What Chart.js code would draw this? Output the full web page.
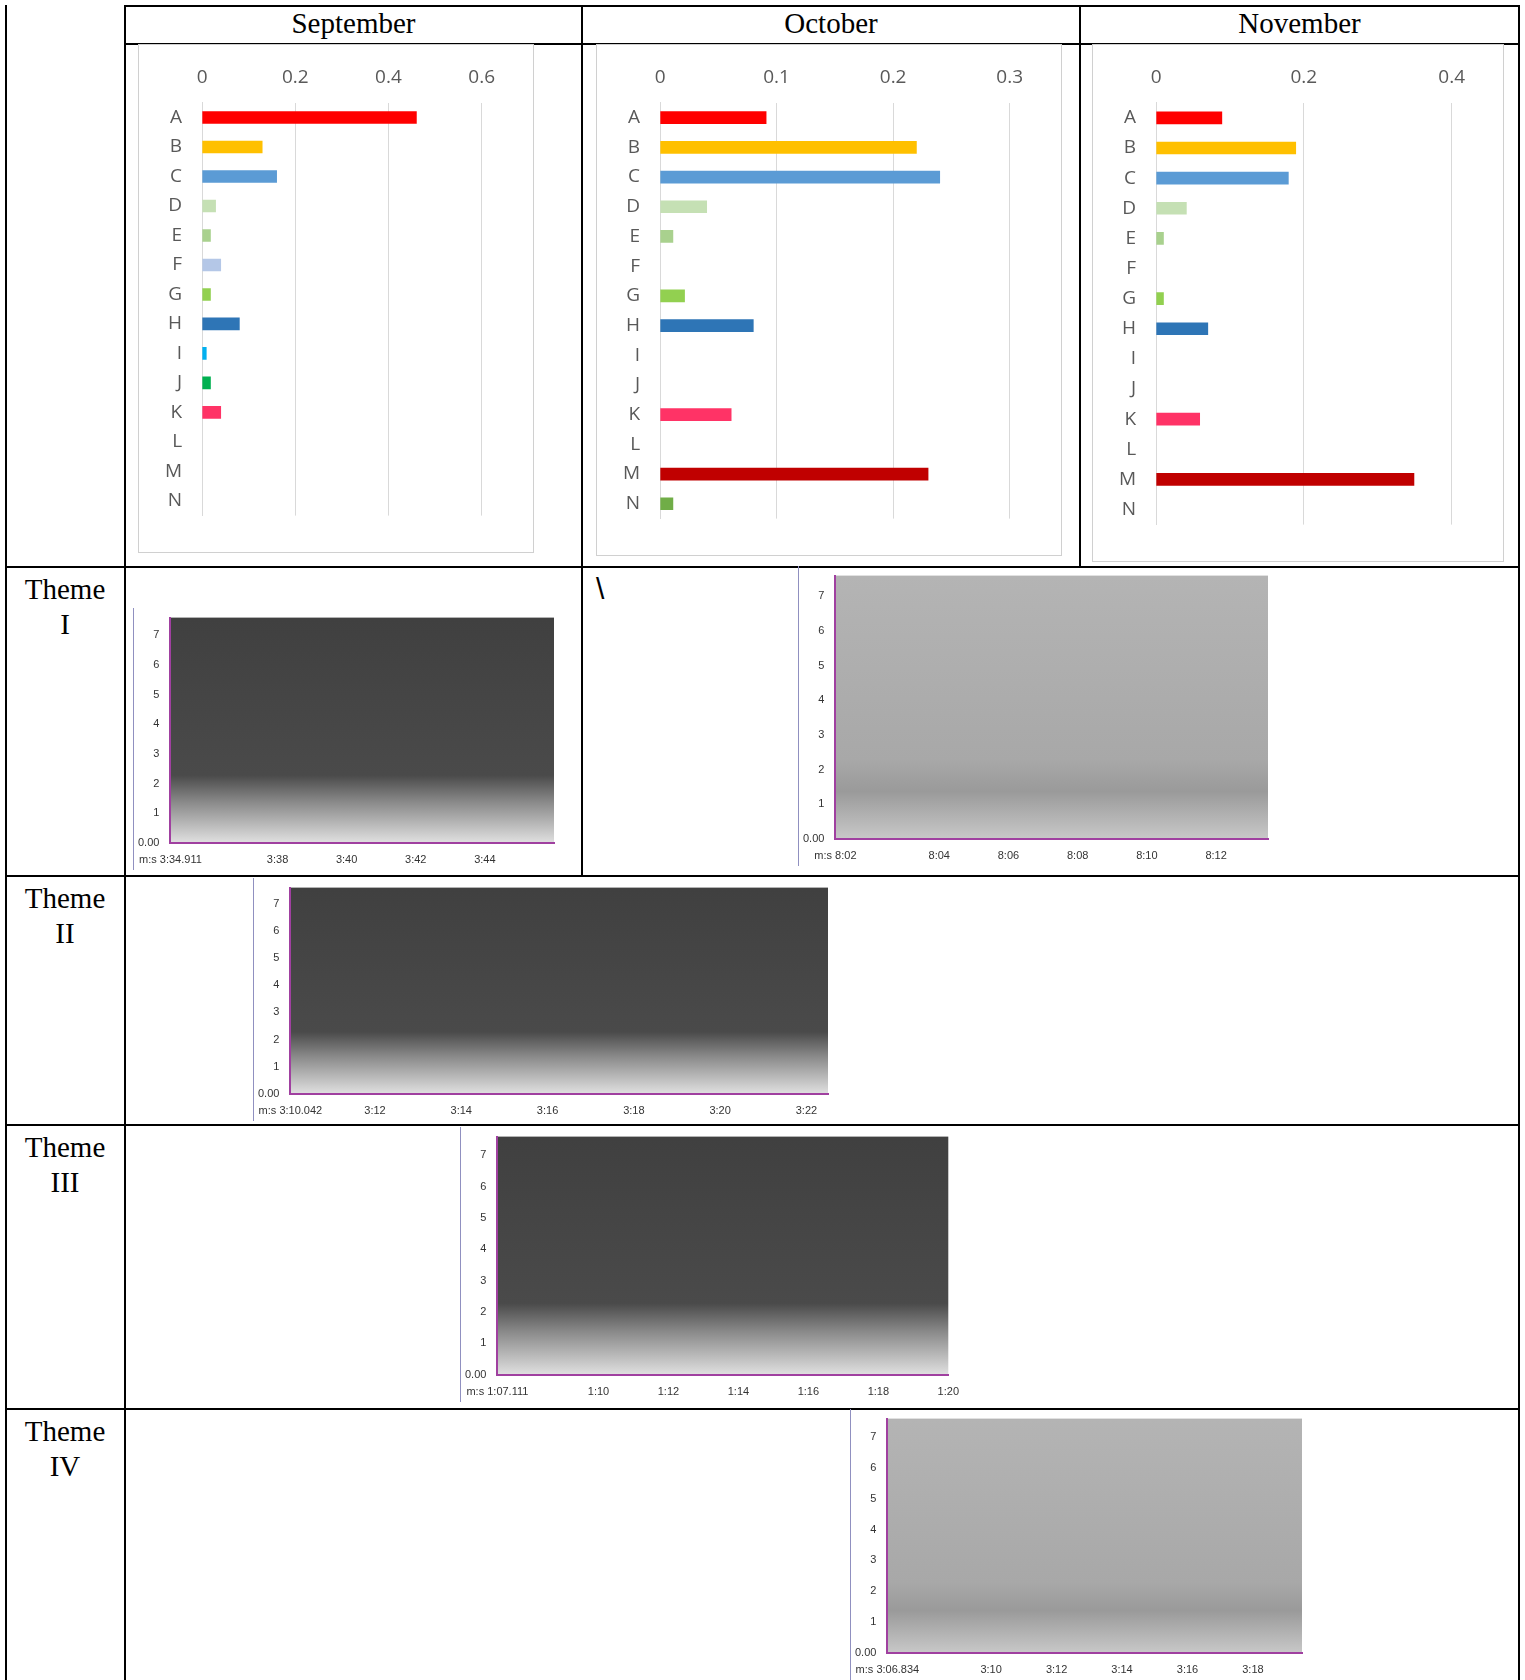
<!DOCTYPE html>
<html><head><meta charset="utf-8">
<script src="https://cdn.jsdelivr.net/npm/chart.js@4/dist/chart.umd.min.js"></script>
<style>
body{margin:0;background:#fff;}
#page{position:relative;width:1525px;height:1680px;overflow:hidden;font-family:"Liberation Serif",serif;}
.ln{position:absolute;background:#000;}
.box{position:absolute;border:1px solid #d0d0d0;box-sizing:border-box;}
.hd{position:absolute;font-size:29px;text-align:center;}
.th{position:absolute;left:5px;width:120px;font-size:29px;text-align:center;line-height:35px;}
.cv{position:absolute;}
</style></head><body>
<div id="page"></div>
<script>
// data
const categories = ['A','B','C','D','E','F','G','H','I','J','K','L','M','N'];
const barColors = ['#FF0000','#FFC000','#5B9BD5','#C5E0B4','#A9D18E','#B4C7E7','#92D050','#2E75B6','#00B0F0','#00B050','#FF3366','#7F7F7F','#C00000','#70AD47'];
const september = [0.46,0.129,0.16,0.029,0.018,0.04,0.018,0.08,0.009,0.018,0.04,null,null,null];
const october   = [0.091,0.22,0.24,0.04,0.011,null,0.021,0.08,null,null,0.061,null,0.23,0.011];
const november  = [0.089,0.189,0.179,0.041,0.01,null,0.01,0.07,null,null,0.059,null,0.349,null];
const months = ['September','October','November'];
const kHzTicks = [1,2,3,4,5,6,7];

const page = document.getElementById('page');
function el(cls, st, html){const d=document.createElement('div');d.className=cls;Object.assign(d.style,st);if(html)d.innerHTML=html;page.appendChild(d);return d;}

// table grid
const cols=[5,125,582,1080,1519], rows=[5,44,566,875,1124,1408,1680];
el('ln',{left:'125px',top:'5px',width:'1394px',height:'2px'});
el('ln',{left:'125px',top:'43px',width:'1394px',height:'2px'});
[566,875,1124,1408].forEach(y=>el('ln',{left:'5px',top:y+'px',width:'1514px',height:'2px'}));
el('ln',{left:'5px',top:'5px',width:'2px',height:'1675px'});
el('ln',{left:'124px',top:'5px',width:'2px',height:'1675px'});
el('ln',{left:'581px',top:'5px',width:'2px',height:'870px'});
el('ln',{left:'1079px',top:'5px',width:'2px',height:'561px'});
el('ln',{left:'1518px',top:'5px',width:'2px',height:'1675px'});
months.forEach((m,i)=>el('hd',{left:cols[i+1]+'px',width:(cols[i+2]-cols[i+1])+'px',top:'7px'},m));
['I','II','III','IV'].forEach((r,i)=>el('th',{top:(rows[i+2]+6)+'px'},'Theme<br>'+r));
el('hd',{left:'596px',top:'572px',fontSize:'30px',fontFamily:'Liberation Sans'},'\\');

function barChart(box, vals, max, step){
  el('box',{left:box[0]+'px',top:box[1]+'px',width:box[2]+'px',height:box[3]+'px'});
  const c=document.createElement('canvas');
  const w=box[2]-40,h=box[3]-22;
  const d=el('cv',{left:(box[0]+15)+'px',top:(box[1]+8)+'px',width:w+'px',height:h+'px'});
  d.appendChild(c);
  new Chart(c,{type:'bar',
    data:{labels:categories,datasets:[{data:vals,backgroundColor:barColors,barThickness:12}]},
    options:{indexAxis:'y',responsive:true,maintainAspectRatio:false,animation:false,
      plugins:{legend:{display:false},tooltip:{enabled:false}},
      scales:{
        x:{position:'top',min:0,max:max,ticks:{stepSize:step,color:'#595959',font:{family:'Open Sans',size:19},padding:14},
           grid:{color:'#d9d9d9',drawTicks:false},border:{display:false}},
        y:{ticks:{color:'#595959',font:{family:'Open Sans',size:19},padding:12},grid:{display:false},border:{color:'#d9d9d9'}}
      }}});
}
barChart([138,44,396,509],september,0.6,0.2);
barChart([596,44,466,512],october,0.3,0.1);
barChart([1092,44,412,518],november,0.4,0.2);

// spectrogram frames: plot area + axes, background shaded via plugin
const shade={id:'shade',beforeDraw(ch,a,o){const {ctx,chartArea:ca}=ch;const g=ctx.createLinearGradient(0,ca.top,0,ca.bottom);
  g.addColorStop(0,o.top);g.addColorStop(0.7,o.mid);g.addColorStop(0.82,o.low);g.addColorStop(1,o.bottom);
  ctx.save();ctx.fillStyle=g;ctx.fillRect(ca.left,ca.top,ca.right-ca.left,ca.bottom-ca.top);ctx.restore();}};
function spectro(x,y,w,h,t0,t1,timeTicks,startLbl,dark){
  const c=document.createElement('canvas');
  const d=el('cv',{left:x+'px',top:y+'px',width:w+'px',height:h+'px'});d.appendChild(c);
  el('ln',{left:(x-2)+'px',top:y+'px',width:'1px',height:h+'px',background:'#9090c0'});
  const pal=dark?{top:'#404040',mid:'#4a4a4a',low:'#8a8a8a',bottom:'#e0e0e0'}:{top:'#b4b4b4',mid:'#a8a8a8',low:'#9a9a9a',bottom:'#c8c8c8'};
  new Chart(c,{type:'scatter',data:{datasets:[{data:[]}]},plugins:[shade],
    options:{responsive:true,maintainAspectRatio:false,animation:false,layout:{padding:{right:2}},
      plugins:{legend:{display:false},tooltip:{enabled:false},shade:pal},
      scales:{
        x:{min:t0,max:t1,afterBuildTicks:s=>{s.ticks=[t0].concat(timeTicks).map(v=>({value:v}));},
          ticks:{color:'#333',font:{family:'Liberation Sans',size:11},callback:(v,i)=>i===0?startLbl:Math.floor(Math.round(v)/60)+':'+String(Math.round(v)%60).padStart(2,'0'),autoSkip:false,maxRotation:0},
          grid:{display:false,drawTicks:true},border:{color:'#a040a0',width:2}},
        y:{min:0,max:7.6,afterBuildTicks:s=>{s.ticks=[0].concat(kHzTicks).map(v=>({value:v}));},
          ticks:{color:'#333',font:{family:'Liberation Sans',size:11},callback:v=>v===0?'0.00':v},
          grid:{display:false},border:{color:'#a040a0',width:2}}
      }}});
}
spectro(135,608,421,262,214.9,226,[218,220,222,224],'m:s 3:34.911',true);
spectro(800,566,470,300,481,493.5,[484,486,488,490,492],'m:s 8:02',false);
spectro(255,878,575,243,190.04,202.5,[192,194,196,198,200,202],'m:s 3:10.042',true);
spectro(462,1127,500,275,67.11,80,[70,72,74,76,78,80],'m:s 1:07.111',true);
spectro(852,1409,452,271,186.83,199.5,[190,192,194,196,198],'m:s 3:06.834',false);
</script>
</body></html>
